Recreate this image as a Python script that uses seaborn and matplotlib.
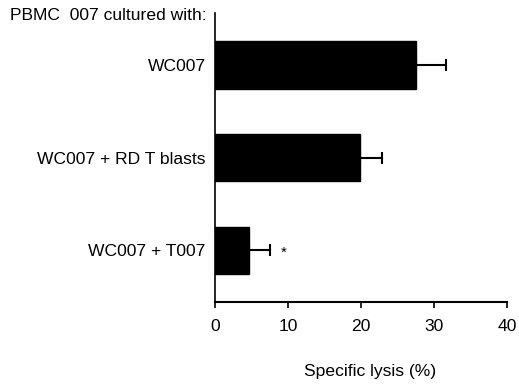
import pandas as pd
import matplotlib
matplotlib.use("Agg")
import matplotlib.pyplot as plt
import seaborn as sns

categories = ["WC007", "WC007 + RD T blasts", "WC007 + T007"]
lysis = [27.5, 19.9, 4.7]
err = [4.1, 3.0, 2.8]

df = pd.DataFrame({"condition": categories, "lysis": lysis})

sns.set_style("ticks", {"text.color": "black", "axes.labelcolor": "black",
                        "xtick.color": "black", "ytick.color": "black",
                        "axes.edgecolor": "black"})
plt.rcParams["font.family"] = ["Liberation Sans", "DejaVu Sans"]
fs = 12.6

fig = plt.figure(figsize=(5.19, 3.85), dpi=100)
ax = fig.add_axes([0.414, 0.2156, 0.563, 0.7504])

sns.barplot(data=df, x="lysis", y="condition", orient="h", color="black",
            width=0.51, errorbar=None, ax=ax)
for p in ax.patches:
    p.set_facecolor("black")
    p.set_edgecolor("black")

ax.errorbar(lysis, range(len(categories)), xerr=[[0] * len(err), err],
            fmt="none", ecolor="black", elinewidth=1.5, capsize=4, capthick=1.5)
ax.text(9.45, 2.03, "*", ha="center", va="center", fontsize=11, color="black")

ax.set_xlim(0, 40)
ax.set_ylim(2.56, -0.56)
ax.set_xticks([0, 10, 20, 30, 40])
ax.set_ylabel("")
ax.set_xlabel("Specific lysis (%)", fontsize=fs, va="center", color="black")
ax.xaxis.set_label_coords(0.53, -0.242)

sns.despine(ax=ax)
ax.spines["left"].set_linewidth(1.2)
ax.spines["bottom"].set_linewidth(1.5)
ax.tick_params(axis="y", length=0, pad=6.5, labelsize=fs, labelcolor="black")
ax.tick_params(axis="x", length=4, width=1.2, pad=8, labelsize=fs, labelcolor="black")

fig.text(0.02, 1 - 16 / 385, "PBMC  007 cultured with:", fontsize=fs, va="center",
         color="black")

fig.savefig("out.png", dpi=100)
